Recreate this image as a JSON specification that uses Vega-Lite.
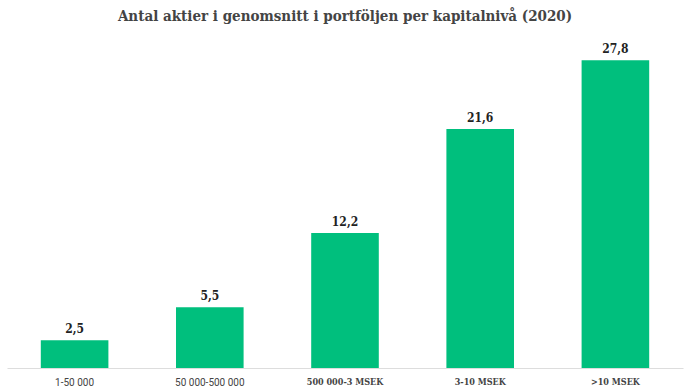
{
  "$schema": "https://vega.github.io/schema/vega-lite/v6.json",
  "width": 676,
  "height": 332,
  "autosize": "none",
  "padding": {"left": 7, "top": 36, "right": 7, "bottom": 24},
  "background": "white",
  "title": {
    "text": "Antal aktier i genomsnitt i portföljen per kapitalnivå  (2020)",
    "font": "DejaVu Serif Condensed, DejaVu Serif",
    "fontSize": 15,
    "fontWeight": "bold",
    "color": "#444444",
    "anchor": "middle",
    "frame": "group",
    "offset": 12
  },
  "data": {
    "values": [
      {"niva": "1-50 000", "antal": 2.5, "label": "2,5"},
      {"niva": "50 000-500 000", "antal": 5.5, "label": "5,5"},
      {"niva": "500 000-3 MSEK", "antal": 12.2, "label": "12,2"},
      {"niva": "3-10 MSEK", "antal": 21.6, "label": "21,6"},
      {"niva": ">10 MSEK", "antal": 27.8, "label": "27,8"}
    ]
  },
  "encoding": {
    "x": {
      "field": "niva",
      "type": "nominal",
      "sort": null,
      "scale": {"paddingInner": 0.5, "paddingOuter": 0.25},
      "axis": {
        "title": null,
        "labelAngle": 0,
        "ticks": false,
        "domainColor": "#dddddd",
        "labelPadding": 9,
        "labelFontSize": {"condition": {"test": "indexof(datum.value, 'MSEK') >= 0", "value": 9}, "value": 10},
        "labelColor": "#444444",
        "labelFont": {"condition": {"test": "indexof(datum.value, 'MSEK') >= 0", "value": "DejaVu Serif Condensed, DejaVu Serif"}, "value": "Roboto"},
        "labelFontWeight": {"condition": {"test": "indexof(datum.value, 'MSEK') >= 0", "value": "bold"}, "value": "normal"}
      }
    },
    "y": {
      "field": "antal",
      "type": "quantitative",
      "scale": {"domain": [0, 30]},
      "axis": null
    }
  },
  "layer": [
    {"mark": {"type": "bar", "color": "#00BF7D"}},
    {
      "mark": {"type": "text", "dy": -11, "font": "DejaVu Serif Condensed, DejaVu Serif", "fontWeight": "bold", "fontSize": 12, "color": "#222222"},
      "encoding": {"text": {"field": "label"}}
    }
  ],
  "config": {"view": {"stroke": null}}
}
